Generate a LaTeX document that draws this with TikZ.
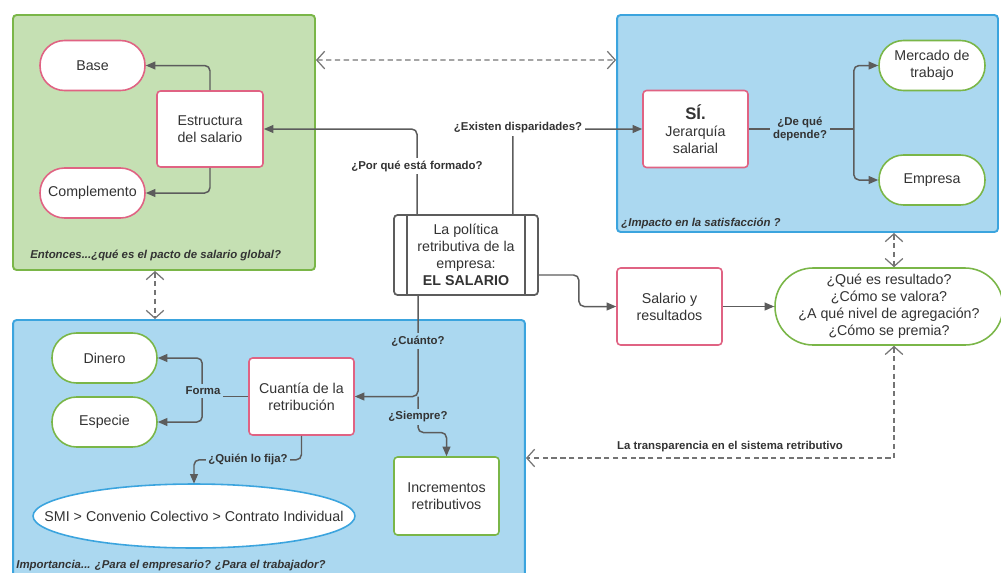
\documentclass[tikz,border=0pt]{standalone}
\usepackage{fontspec}
\setmainfont{Liberation Sans}
\usetikzlibrary{arrows.meta,shapes.geometric,calc}
\definecolor{gfill}{HTML}{C5E0B3}
\definecolor{gline}{HTML}{7AB648}
\definecolor{bfill}{HTML}{ABD8F0}
\definecolor{bline}{HTML}{3BA4DE}
\definecolor{pline}{HTML}{E06383}
\definecolor{ink}{HTML}{333333}
\definecolor{conn}{HTML}{5C5C5C}
\begin{document}
\begin{tikzpicture}[x=0.02cm,y=-0.02cm, font=\fontsize{8.1}{9.7}\selectfont, text=ink,
 cont/.style={draw, line width=1.1pt, rounded corners=2pt, inner sep=0},
 pbox/.style={draw=pline, fill=white, line width=0.9pt, rounded corners=2pt, minimum width=2.1cm, minimum height=1.54cm, align=center, inner sep=1pt},
 pill/.style={draw=#1, fill=white, line width=0.9pt, rounded corners=0.49cm, minimum width=2.1cm, minimum height=1.0cm, align=center},
 lbl/.style={font=\fontsize{6.5}{7.8}\selectfont\bfseries, inner sep=1.5pt, align=center},
 note/.style={font=\fontsize{6.5}{7.8}\selectfont\bfseries\itshape, anchor=west, inner sep=0},
 arr/.style={draw=conn, line width=0.85pt, rounded corners=3pt, -{Triangle[length=5.5pt,width=4.5pt]}},
 ln/.style={draw=conn, line width=0.85pt, rounded corners=3pt},
 darr/.style={draw=conn!85, line width=0.7pt, dash pattern=on 3pt off 2pt, {Straight Barb[length=4.5pt,width=10pt]}-{Straight Barb[length=4.5pt,width=10pt]}}
]
\useasboundingbox (0,0) rectangle (1001,572);
\clip (0,0) rectangle (1001,572);
% containers
\node[cont, draw=gline, fill=gfill, minimum width=6.04cm, minimum height=5.1cm] (G) at (164,142.5) {};
\node[cont, draw=bline, fill=bfill, minimum width=7.62cm, minimum height=4.34cm] (B1) at (807.5,123.5) {};
\node[cont, draw=bline, fill=bfill, minimum width=10.24cm, minimum height=5.2cm] (B2) at (269,450) {};
\node[note] (n1) at (30,255) {Entonces...¿qué es el pacto de salario global?};
\node[note] (n2) at (621,223) {¿Impacto en la satisfacción ?};
\node[note] (n3) at (16,566) {Importancia... ¿Para el empresario? ¿Para el trabajador?};
% nodes
\node[pill=pline] (base) at (92.5,65.5) {Base};
\node[pill=pline] (comp) at (92.5,193) {Complemento};
\node[pbox, minimum width=2.12cm, minimum height=1.52cm] (estr) at (210,129) {Estructura\\del salario};
\node[draw=conn, line width=1pt, fill=white, rounded corners=2pt, minimum width=2.88cm, minimum height=1.6cm, align=center, inner sep=0] (main) at (466,255) {La política\\retributiva de la\\empresa:\\\textbf{EL SALARIO}};
\draw[conn, line width=1pt] ([xshift=0.28cm]main.north west) -- ([xshift=0.28cm]main.south west);
\draw[conn, line width=1pt] ([xshift=-0.28cm]main.north east) -- ([xshift=-0.28cm]main.south east);
\node[pbox] (jer) at (695.5,129) {{\fontsize{9.5}{11}\selectfont\bfseries SÍ.}\\Jerarquía\\salarial};
\node[pill=gline, minimum width=2.12cm] (merc) at (932,65.5) {Mercado de\\trabajo};
\node[pill=gline, minimum width=2.12cm] (emp) at (932,180) {Empresa};
\node[pbox] (sal) at (669.5,306.5) {Salario y\\resultados};
\node[draw=gline, fill=white, line width=0.9pt, rounded corners=0.76cm, minimum width=4.56cm, minimum height=1.54cm, align=center, inner sep=0] (res) at (889,306.5) {¿Qué es resultado?\\¿Cómo se valora?\\¿A qué nivel de agregación?\\¿Cómo se premia?};
\node[pill=gline] (din) at (104.5,358) {Dinero};
\node[pill=gline] (esp) at (104.5,422) {Especie};
\node[pbox] (cua) at (301.5,396.5) {Cuantía de la\\retribución};
\node[pbox, draw=gline, minimum height=1.56cm] (inc) at (446.5,496) {Incrementos\\retributivos};
\draw[draw=bline, fill=white, line width=0.9pt] (194,516) ellipse (3.22cm and 0.64cm);
\node[minimum width=6.44cm, minimum height=1.28cm, inner sep=0] (smi) at (194,516) {SMI > Convenio Colectivo > Contrato Individual};
% connectors top
\draw[arr] (estr.north) |- (base.east);
\draw[arr] (estr.south) |- (comp.east);
\coordinate (mpq) at ([xshift=-0.98cm]main.north);
\draw[arr] (mpq) |- (estr.east);
\node[lbl, fill=white] (lpq) at (417,166) {¿Por qué está formado?};
\coordinate (mex) at ([xshift=0.94cm]main.north);
\draw[arr] (mex) |- (jer.west);
\node[lbl, fill=white] (lex) at (518,128) {¿Existen disparidades?};
\draw[arr] ([yshift=-0.4cm]main.east) -- ++(40,0) |- (sal.west);
\draw[arr] (sal.east) -- (res.west);
\draw[ln] (jer.east) -- ++(105,0) coordinate (br);
\node[lbl, fill=bfill] (lde) at (800,129) {¿De qué\\depende?};
\draw[arr] (br) |- (merc.west);
\draw[arr] (br) |- (emp.west);
% connectors bottom
\coordinate (mcu) at ([xshift=-0.96cm]main.south);
\draw[arr] (mcu) |- (cua.east);
\coordinate (cj) at (mcu |- cua.east);
\draw[arr] (cj) -- ++(0,36) -| (inc.north);
\node[lbl, fill=bfill] (lcu) at (418,341) {¿Cuánto?};
\node[lbl, fill=bfill] (lsi) at (418,417) {¿Siempre?};
\draw[arr] (cua.south) -- ++(0,24) -| (smi.north);
\node[lbl, fill=bfill] (lqu) at (248,459) {¿Quién lo fija?};
\draw[ln] (cua.west) -- ++(-46,0) coordinate (fb);
\draw[arr] (fb) |- (din.east);
\draw[arr] (fb) |- (esp.east);
\node[lbl, fill=bfill] (lfo) at (203,391) {Forma};
% dashed
\draw[darr] ($(G.north east)+(0,46)$) -- ($(B1.north west)+(0,46)$);
\coordinate (rt) at ([xshift=0.1cm]res.north);
\draw[darr] (rt |- B1.south) -- (rt);
\coordinate (gv) at ([xshift=-0.18cm]G.south);
\draw[darr] (gv) -- (gv |- B2.north);
\coordinate (rb) at ([xshift=0.1cm]res.south);
\draw[darr] (rb) |- ($(B2.east)+(0,8)$);
\node[lbl] (ltr) at (730,447) {La transparencia en el sistema retributivo};
\end{tikzpicture}
\end{document}
